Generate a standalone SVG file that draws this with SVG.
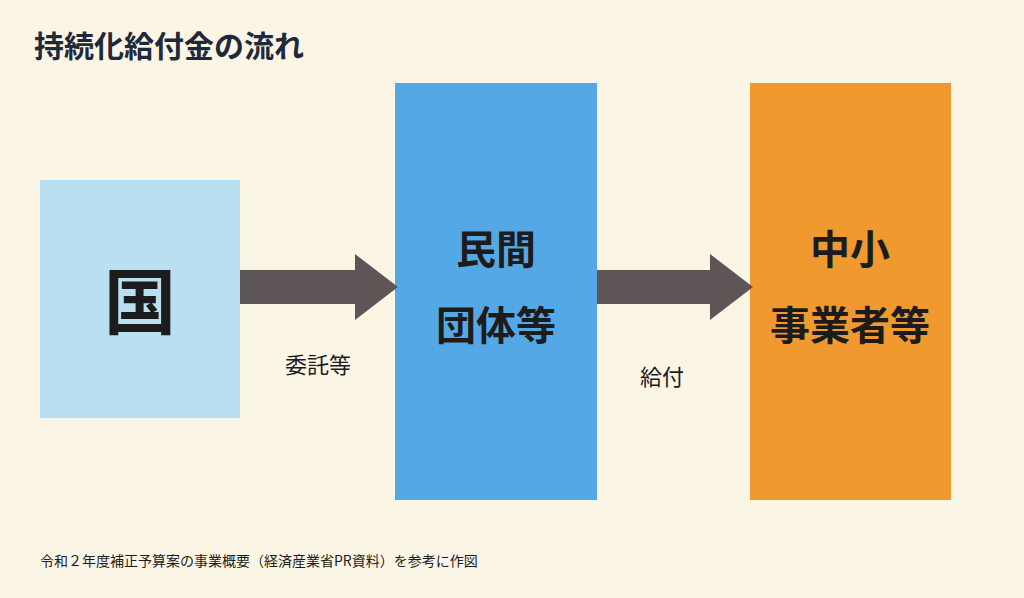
<svg xmlns="http://www.w3.org/2000/svg" width="1024" height="598" viewBox="0 0 1024 598">
<style>
text{font-family:"Noto Sans CJK JP","Noto Sans",sans-serif;fill:#1c1c1c}
.b{font-weight:bold}
.arr{fill:#5e5556}
</style>
<rect width="1024" height="598" fill="#fbf5e6"/>
<text x="34" y="57" class="b" font-size="30" style="fill:#1e2a3a">持続化給付金の流れ</text>
<g id="n1"><rect x="40" y="180" width="200" height="238" fill="#b9dff0"/><text x="140" y="328" class="b" font-size="72" text-anchor="middle">国</text></g>
<g id="n2"><rect x="395" y="83" width="202" height="417" fill="#55a8e6"/><text x="496" y="264" class="b" font-size="40" text-anchor="middle">民間</text><text x="496" y="340" class="b" font-size="40" text-anchor="middle">団体等</text></g>
<g id="n3"><rect x="750" y="83" width="201" height="417" fill="#f0992f"/><text x="850" y="264" class="b" font-size="40" text-anchor="middle">中小</text><text x="850" y="340" class="b" font-size="40" text-anchor="middle">事業者等</text></g>
<g id="connectors">
<polygon class="arr" points="240,270 355,270 355,254 398,287 355,320 355,304 240,304"/>
<polygon class="arr" points="597,270 710,270 710,254 753,287 710,320 710,304 597,304"/>
<text x="318" y="373" font-size="22" text-anchor="middle">委託等</text>
<text x="662" y="385" font-size="22" text-anchor="middle">給付</text>
</g>
<text x="40" y="566" font-size="14">令和２年度補正予算案の事業概要（経済産業省PR資料）を参考に作図</text>
</svg>
